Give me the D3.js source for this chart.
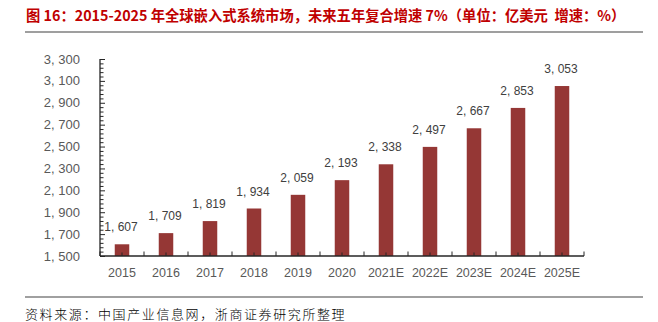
<!DOCTYPE html>
<html><head><meta charset="utf-8">
<script src="https://cdn.jsdelivr.net/npm/d3@7"></script>
<style>
html,body{margin:0;padding:0;background:#fff;}
svg{display:block;}
</style></head>
<body>
<svg id="c" width="658" height="322"></svg>
<script>
const categories = ["2015","2016","2017","2018","2019","2020","2021E","2022E","2023E","2024E","2025E"];
const values = [1607,1709,1819,1934,2059,2193,2338,2497,2667,2853,3053];
const yTicks = [1500,1700,1900,2100,2300,2500,2700,2900,3100,3300];
const titleText = "图 16：2015-2025 年全球嵌入式系统市场，未来五年复合增速 7%（单位：亿美元\u00a0\u00a0增速：%）";
const sourceText = "资料来源：中国产业信息网，浙商证券研究所整理";

const svg = d3.select("#c");
const fmt = v => d3.format(",")(v).replace(",", ", ");

// title
svg.append("text").attr("x", 26).attr("y", 21)
  .attr("font-family", "'Noto Sans CJK SC', sans-serif").attr("font-weight", "bold")
  .attr("font-size", 14.3).attr("fill", "#C00000").text(titleText);
svg.append("line").attr("x1", 25).attr("x2", 643).attr("y1", 32).attr("y2", 32)
  .attr("stroke", "#404040").attr("stroke-width", 1.2);

// source
svg.append("line").attr("x1", 25).attr("x2", 643).attr("y1", 297).attr("y2", 297)
  .attr("stroke", "#808080").attr("stroke-width", 1.5);
svg.append("text").attr("x", 25).attr("y", 319)
  .attr("font-family", "'Noto Sans CJK SC', sans-serif").attr("font-weight", 300)
  .attr("font-size", 13).attr("letter-spacing", 1.6).attr("fill", "#000").text(sourceText);

const x = d3.scaleBand().domain(categories).range([100, 584]).padding(0);
const y = d3.scaleLinear().domain([1500, 3300]).range([256, 59]);
const barW = 14.5;

// bars
svg.append("g").selectAll("rect").data(values).join("rect")
  .attr("x", (d, i) => x(categories[i]) + x.bandwidth() / 2 - barW / 2)
  .attr("width", barW)
  .attr("y", d => y(d))
  .attr("height", d => y(1500) - y(d))
  .attr("fill", "#953735");

// value labels
svg.append("g").selectAll("text").data(values).join("text")
  .attr("x", (d, i) => x(categories[i]) + x.bandwidth() / 2 - 1)
  .attr("y", d => y(d) - 13)
  .attr("text-anchor", "middle")
  .attr("font-family", "Arial, 'Liberation Sans', sans-serif")
  .attr("font-size", 12).attr("fill", "#404040")
  .text(d => fmt(d));

// y axis
const yAxis = d3.axisRight(y).tickValues(d3.range(1500, 3301, 40)).tickSize(3.5).tickFormat("");
const gy = svg.append("g").attr("transform", "translate(100,0)").call(yAxis);
gy.select(".domain").attr("stroke", "#262626").attr("stroke-width", 1.3).attr("d", "M0,59V256");
gy.selectAll(".tick line").attr("stroke", "#262626")
  .attr("x2", d => (yTicks.includes(d) ? 5 : 3.5));
svg.append("g").selectAll("text").data(yTicks).join("text")
  .attr("x", 80).attr("y", d => y(d) + 4.5).attr("text-anchor", "end")
  .attr("font-family", "Arial, 'Liberation Sans', sans-serif")
  .attr("font-size", 13).attr("fill", "#595959").text(d => fmt(d));

// x axis
const gx = svg.append("g").attr("transform", "translate(0,256)");
gx.append("line").attr("x1", 100).attr("x2", 584).attr("stroke", "#262626").attr("stroke-width", 1.3);
const bounds = categories.map(c => x(c)).concat([584]);
gx.selectAll("line.b").data(bounds).join("line").attr("class", "b")
  .attr("x1", d => d).attr("x2", d => d).attr("y1", 0).attr("y2", -4.5).attr("stroke", "#262626");
gx.selectAll("line.c").data(categories).join("line").attr("class", "c")
  .attr("x1", d => x(d) + x.bandwidth() / 2).attr("x2", d => x(d) + x.bandwidth() / 2)
  .attr("y1", 0).attr("y2", -3.5).attr("stroke", "#262626");
gx.selectAll("text").data(categories).join("text")
  .attr("x", d => x(d) + x.bandwidth() / 2).attr("y", 20.5).attr("text-anchor", "middle")
  .attr("font-family", "Arial, 'Liberation Sans', sans-serif")
  .attr("font-size", 12.5).attr("fill", "#595959").text(d => d);
</script>
</body></html>
